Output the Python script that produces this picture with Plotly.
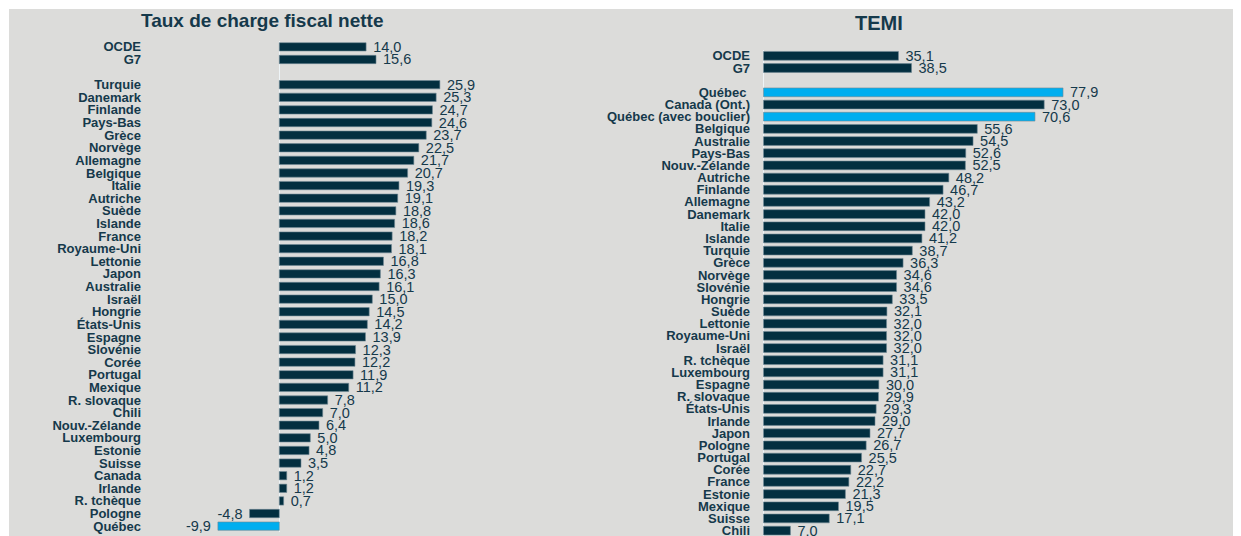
import plotly.graph_objects as go

# %%
# Data - Taux de charge fiscal nette
left_groups = ["OCDE", "G7"]
left_group_vals = [14.0, 15.6]
left_countries = ["Turquie", "Danemark", "Finlande", "Pays-Bas", "Grèce", "Norvège",
                  "Allemagne", "Belgique", "Italie", "Autriche", "Suède", "Islande",
                  "France", "Royaume-Uni", "Lettonie", "Japon", "Australie", "Israël",
                  "Hongrie", "États-Unis", "Espagne", "Slovénie", "Corée", "Portugal",
                  "Mexique", "R. slovaque", "Chili", "Nouv.-Zélande", "Luxembourg",
                  "Estonie", "Suisse", "Canada", "Irlande", "R. tchèque", "Pologne",
                  "Québec"]
left_vals = [25.9, 25.3, 24.7, 24.6, 23.7, 22.5, 21.7, 20.7, 19.3, 19.1, 18.8, 18.6,
             18.2, 18.1, 16.8, 16.3, 16.1, 15.0, 14.5, 14.2, 13.9, 12.3, 12.2, 11.9,
             11.2, 7.8, 7.0, 6.4, 5.0, 4.8, 3.5, 1.2, 1.2, 0.7, -4.8, -9.9]

# Data - TEMI
right_groups = ["OCDE", "G7"]
right_group_vals = [35.1, 38.5]
right_countries = ["Québec\u00a0", "Canada (Ont.)", "Québec (avec bouclier)", "Belgique",
                   "Australie", "Pays-Bas", "Nouv.-Zélande", "Autriche", "Finlande",
                   "Allemagne", "Danemark", "Italie", "Islande", "Turquie", "Grèce",
                   "Norvège", "Slovénie", "Hongrie", "Suède", "Lettonie", "Royaume-Uni",
                   "Israël", "R. tchèque", "Luxembourg", "Espagne", "R. slovaque",
                   "États-Unis", "Irlande", "Japon", "Pologne", "Portugal", "Corée",
                   "France", "Estonie", "Mexique", "Suisse", "Chili"]
right_vals = [77.9, 73.0, 70.6, 55.6, 54.5, 52.6, 52.5, 48.2, 46.7, 43.2, 42.0, 42.0,
              41.2, 38.7, 36.3, 34.6, 34.6, 33.5, 32.1, 32.0, 32.0, 32.0, 31.1, 31.1,
              30.0, 29.9, 29.3, 29.0, 27.7, 26.7, 25.5, 22.7, 22.2, 21.3, 19.5, 17.1, 7.0]

highlight = ["Québec", "Québec\u00a0", "Québec (avec bouclier)"]

# %%
DARK = "#032f40"
BLUE = "#00aeef"
BG = "#dcdcda"
TXT = "#15394b"
W, H = 1241, 536
OFF = 8  # page body margin


def px(x):
    return (x - OFF) / W


def py(y):
    return 1 - (y - OFF) / H


def build(groups, gvals, countries, cvals):
    names = groups + countries
    vals = gvals + cvals
    # one empty row between the aggregates and the countries
    pos = list(range(len(groups))) + [len(groups) + 1 + i for i in range(len(countries))]
    colors = [BLUE if n in highlight else DARK for n in names]
    texts = [(" " + f"{v:.1f}" if v >= 0 else f"{v:.1f}" + " ").replace(".", ",") for v in vals]
    return names, vals, pos, colors, texts


fig = go.Figure()

ln, lv, lp, lc, lt = build(left_groups, left_group_vals, left_countries, left_vals)
rn, rv, rp, rc, rt = build(right_groups, right_group_vals, right_countries, right_vals)

valfont = dict(size=14.5, color=TXT, family="Liberation Sans")
fig.add_trace(go.Bar(x=lv, y=lp, orientation="h", marker=dict(color=lc, line=dict(width=0.6, color="#6f8893")),
                     width=0.66, text=lt, textposition="outside", constraintext="none",
                     cliponaxis=False, textfont=valfont, xaxis="x", yaxis="y", hoverinfo="skip"))
fig.add_trace(go.Bar(x=rv, y=rp, orientation="h", marker=dict(color=rc, line=dict(width=0.6, color="#6f8893")),
                     width=0.72, text=rt, textposition="outside", constraintext="none",
                     cliponaxis=False, textfont=valfont, xaxis="x2", yaxis="y2", hoverinfo="skip"))

tickfont = dict(size=13, color=TXT, family="Liberation Sans", weight="bold")

# left: zero at x=279.3, 6.2 px/unit ; right: zero at x=763.5, 3.845 px/unit
l0, ls, r0, rs = 279.3, 6.2, 763.5, 3.845
lrow, rrow = 12.66, 12.22

fig.update_layout(
    width=W, height=H,
    margin=dict(l=0, r=0, t=0, b=0),
    paper_bgcolor="white", plot_bgcolor=BG,
    showlegend=False,
    xaxis=dict(domain=[px(142), px(560)], range=[(142 - l0) / ls, (560 - l0) / ls],
               showgrid=False, showticklabels=False, zeroline=True,
               zerolinecolor="#eef4f7", zerolinewidth=1),
    yaxis=dict(domain=[py(46 - lrow / 2 + 39 * lrow), py(46 - lrow / 2)], range=[38.5, -0.5],
               tickvals=lp, ticktext=ln, tickfont=tickfont, showgrid=False,
               zeroline=False, ticks=""),
    xaxis2=dict(domain=[px(751), px(1238)], range=[(751 - r0) / rs, (1238 - r0) / rs],
                showgrid=False, showticklabels=False, zeroline=True,
                zerolinecolor="#eef4f7", zerolinewidth=1, anchor="y2"),
    yaxis2=dict(domain=[0, py(55 - rrow / 2)],
                range=[-0.5 + (H + OFF - (55 - rrow / 2)) / rrow, -0.5], anchor="x2",
                tickvals=rp, ticktext=rn, tickfont=tickfont, showgrid=False,
                zeroline=False, ticks=""),
)

# gray panel
fig.add_shape(type="rect", xref="paper", yref="paper", x0=px(9), x1=1, y0=0, y1=1,
              fillcolor=BG, line=dict(width=0), layer="below")

fig.add_annotation(text="<b>Taux de charge fiscal nette</b>", xref="paper", yref="paper",
                   x=px(262), y=py(20), xanchor="center", yanchor="middle", showarrow=False,
                   font=dict(size=19, color=TXT, family="Liberation Sans"))
fig.add_annotation(text="<b>TEMI</b>", xref="paper", yref="paper",
                   x=px(879), y=py(22), xanchor="center", yanchor="middle", showarrow=False,
                   font=dict(size=20, color=TXT, family="Liberation Sans"))

fig.write_html("out.html")
